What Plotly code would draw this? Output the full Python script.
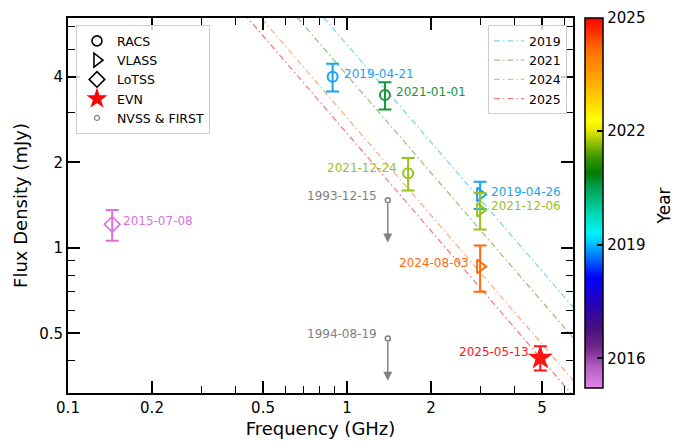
import numpy as np
import plotly.graph_objects as go

# ---------------- data ----------------
racs_dates = ["2019-04-21", "2021-01-01", "2021-12-24"]
racs_freq = [0.888, 1.3675, 1.6555]
racs_flux = [4.0, 3.45, 1.83]
racs_err = [0.45, 0.38, 0.24]

vlass_dates = ["2019-04-26", "2021-12-06", "2024-08-03"]
vlass_freq = [3.0, 3.0, 3.0]
vlass_flux = [1.54, 1.36, 0.86]
vlass_err = [0.17, 0.20, 0.16]

lotss_dates = ["2015-07-08"]
lotss_freq = [0.144]
lotss_flux = [1.21]
lotss_err = [0.15]

evn_dates = ["2025-05-13"]
evn_freq = [4.93]
evn_flux = [0.41]
evn_err = [0.04]

nvss_first_dates = ["1993-12-15", "1994-08-19"]
nvss_first_freq = [1.4, 1.4]
nvss_first_limit = [1.47, 0.48]
limit_arrow_fraction = 0.71

line_years = ["2019", "2021", "2024", "2025"]
line_flux_1ghz = [5.19, 4.05, 2.87, 2.53]
spectral_index = -1.14
line_freq_span = [0.1, 8.0]

x_ticks = [0.1, 0.2, 0.5, 1, 2, 5]
x_ticklabels = ["0.1", "0.2", "0.5", "1", "2", "5"]
x_minor = [0.3, 0.4, 0.6, 0.7, 0.8, 0.9, 3, 4, 6]
y_ticks = [0.5, 1, 2, 4]
y_ticklabels = ["0.5", "1", "2", "4"]
y_minor = [0.4, 0.6, 0.7, 0.8, 0.9, 3, 5, 6]

cbar_years = [2016, 2019, 2022, 2025]
cbar_min, cbar_max = 2015.23, 2025.0

# ---------------- styles ----------------
FONT = "DejaVu Sans"
color_of = {
    "2015-07-08": "#dc6ee0",
    "2019-04-21": "#1ba3ef",
    "2019-04-26": "#1ba3ef",
    "2021-01-01": "#16973a",
    "2021-12-24": "#95c41c",
    "2021-12-06": "#95c41c",
    "2024-08-03": "#ff6a0e",
    "2025-05-13": "#ff1414",
}
grey = "#808080"
line_colors = ["#82d4f2", "#95ca7c", "#ffb07e", "#f47f7f"]

stops = [
    (2015.23, "#e383ea"), (2015.78, "#b25fc4"), (2016.31, "#72258a"),
    (2016.84, "#45107e"), (2017.54, "#2200c4"), (2018.15, "#0000ff"),
    (2018.78, "#0088ff"), (2019.2, "#00e0ff"), (2019.35, "#00f4f4"),
    (2019.84, "#00d8b0"), (2020.53, "#00a050"), (2020.89, "#007f00"),
    (2021.32, "#3a9400"), (2021.76, "#a2c800"), (2022.05, "#eaea00"),
    (2022.3, "#ffff00"), (2023.26, "#ffb000"), (2024.14, "#ff7000"),
    (2025.0, "#ff0000"),
]
colorscale = [[(y - cbar_min) / (cbar_max - cbar_min), c] for y, c in stops]
colorscale[0][0] = 0.0
colorscale[-1][0] = 1.0

X_RANGE = [-1, 0.81]
Y_RANGE = [-0.511, 0.809]

fig = go.Figure()

# spectral-index lines
for yr, s1, col in zip(line_years, line_flux_1ghz, line_colors):
    f = np.array(line_freq_span)
    fig.add_trace(go.Scatter(
        x=f, y=s1 * f ** spectral_index, mode="lines", name=yr,
        line=dict(color=col, width=1.3, dash="6px,3px,1.5px,3px"),
        legend="legend2", hoverinfo="skip"))

def add_points(dates, freq, flux, err, symbol, size, lw):
    for d, f, s, e in zip(dates, freq, flux, err):
        c = color_of[d]
        fig.add_trace(go.Scatter(
            x=[f], y=[s], mode="markers", showlegend=False,
            marker=dict(symbol=symbol, size=size, color=c,
                        line=dict(color=c, width=lw)),
            error_y=dict(type="data", array=[e], color=c, thickness=2, width=6.5)))

add_points(racs_dates, racs_freq, racs_flux, racs_err, "circle-open", 10, 2)
add_points(vlass_dates, vlass_freq, vlass_flux, vlass_err, "triangle-right-open", 12, 2)
add_points(lotss_dates, lotss_freq, lotss_flux, lotss_err, "diamond-open", 12, 1.6)
add_points(evn_dates, evn_freq, evn_flux, evn_err, "star", 19, 0)

# NVSS & FIRST upper limits
fig.add_trace(go.Scatter(
    x=nvss_first_freq, y=nvss_first_limit, mode="markers", showlegend=False,
    marker=dict(symbol="circle-open", size=5, color=grey, line=dict(color=grey, width=1.5))))
for f, s in zip(nvss_first_freq, nvss_first_limit):
    fig.add_annotation(
        x=np.log10(f), y=np.log10(s * limit_arrow_fraction), xref="x", yref="y",
        ax=np.log10(f), ay=np.log10(s), axref="x", ayref="y", text="",
        showarrow=True, arrowhead=2, arrowsize=1.2, arrowwidth=1.5, arrowcolor=grey,
        standoff=0, startstandoff=2)

# date labels
label_specs = [
    (racs_dates, racs_freq, racs_flux, ["left", "left", "right"], [3, 3, 5]),
    (vlass_dates, vlass_freq, vlass_flux, ["left", "left", "right"], [3, 4, 3]),
    (lotss_dates, lotss_freq, lotss_flux, ["left"], [3]),
    (evn_dates, evn_freq, evn_flux, ["right"], [6]),
]
for dates, freq, flux, sides, ysh in label_specs:
    for d, f, s, side, dy in zip(dates, freq, flux, sides, ysh):
        fig.add_annotation(
            x=np.log10(f), y=np.log10(s), xref="x", yref="y", text=d, showarrow=False,
            xanchor=side, xshift=9 if side == "left" else -9, yshift=dy,
            font=dict(family=FONT, size=12, color=color_of[d]))
for d, f, s in zip(nvss_first_dates, nvss_first_freq, nvss_first_limit):
    fig.add_annotation(
        x=np.log10(f), y=np.log10(s), xref="x", yref="y", text=d, showarrow=False,
        xanchor="right", xshift=-9, yshift=4,
        font=dict(family=FONT, size=12, color=grey))

# colorbar title
fig.add_annotation(
    x=1.18, y=0.5, xref="paper", yref="paper", text="Year", textangle=-90,
    showarrow=False, xanchor="center", yanchor="middle",
    font=dict(family=FONT, size=17, color="black"))

# legend proxies
legend_entries = [
    ("RACS", "circle-open", 10, "black", 1.6),
    ("VLASS", "triangle-right-open", 12, "black", 1.6),
    ("LoTSS", "diamond-open", 12, "black", 1.6),
    ("EVN", "star", 18, "#ff0000", 0),
    ("NVSS & FIRST", "circle-open", 5, grey, 1.2),
]
for name, sym, sz, col, lw in legend_entries:
    fig.add_trace(go.Scatter(
        x=[None], y=[None], mode="markers", name=name, legend="legend",
        marker=dict(symbol=sym, size=sz, color=col, line=dict(color=col, width=lw))))

# colorbar carrier
fig.add_trace(go.Scatter(
    x=[1, 1], y=[1, 1], mode="markers", showlegend=False, hoverinfo="skip",
    marker=dict(size=0.1, opacity=0, color=[cbar_min, cbar_max], coloraxis="coloraxis")))

# invisible trace on the mirror axes (top / right ticks)
fig.add_trace(go.Scatter(
    x=[1], y=[1], xaxis="x2", yaxis="y2", mode="markers", showlegend=False,
    hoverinfo="skip", marker=dict(size=0.1, opacity=0)))

tick_style = dict(ticks="inside", ticklen=12, tickwidth=1.8, tickcolor="black",
                  showgrid=False, zeroline=False, automargin=False)
minor_x = dict(tickmode="array", tickvals=x_minor, ticks="inside", ticklen=7,
               tickwidth=1.3, tickcolor="black", showgrid=False)
minor_y = dict(tickmode="array", tickvals=y_minor, ticks="inside", ticklen=7,
               tickwidth=1.3, tickcolor="black", showgrid=False)

# the page body adds an 8px offset, so the figure is 8px smaller on each axis
fig.update_layout(
    width=678, height=433,
    margin=dict(l=60, r=113, t=10, b=48, autoexpand=False),
    paper_bgcolor="white", plot_bgcolor="white",
    font=dict(family=FONT, color="black"),
    xaxis=dict(tick_style, type="log", range=X_RANGE, showline=True, linewidth=2,
               linecolor="black", mirror=True,
               tickmode="array", tickvals=x_ticks, ticktext=x_ticklabels,
               tickfont=dict(family=FONT, size=15, color="black"), minor=minor_x,
               title=dict(text="Frequency (GHz)", font=dict(family=FONT, size=18), standoff=6)),
    yaxis=dict(tick_style, type="log", range=Y_RANGE, showline=True, linewidth=2,
               linecolor="black", mirror=True,
               tickmode="array", tickvals=y_ticks, ticktext=y_ticklabels,
               tickfont=dict(family=FONT, size=15, color="black"), minor=minor_y,
               title=dict(text="Flux Density (mJy)", font=dict(family=FONT, size=18), standoff=7)),
    xaxis2=dict(tick_style, type="log", range=X_RANGE, overlaying="x", side="top",
                anchor="y", showline=False, showticklabels=False,
                tickmode="array", tickvals=x_ticks, minor=minor_x),
    yaxis2=dict(tick_style, type="log", range=Y_RANGE, overlaying="y", side="right",
                anchor="x", showline=False, showticklabels=False,
                tickmode="array", tickvals=y_ticks, minor=minor_y),
    coloraxis=dict(
        cmin=cbar_min, cmax=cbar_max, colorscale=colorscale,
        colorbar=dict(
            x=1.024, xanchor="left", xref="paper", y=1.001, yanchor="top",
            len=0.986, lenmode="fraction", thickness=18, xpad=0, ypad=0,
            outlinewidth=1.5, outlinecolor="black",
            tickmode="array", tickvals=cbar_years, ticktext=[str(v) for v in cbar_years],
            ticks="inside", ticklen=6, tickwidth=1.5, tickcolor="black",
            tickfont=dict(family=FONT, size=15, color="black"),
            title=dict(text="")),
    ),
    legend=dict(x=0.0158, y=0.9806, xanchor="left", yanchor="top",
                bgcolor="rgba(255,255,255,0.8)", bordercolor="#cccccc", borderwidth=1,
                font=dict(family=FONT, size=12.5), itemsizing="trace"),
    legend2=dict(x=0.988, y=0.9806, xanchor="right", yanchor="top",
                 bgcolor="rgba(255,255,255,0.8)", bordercolor="#cccccc", borderwidth=1,
                 font=dict(family=FONT, size=12.5)),
    showlegend=True,
)

fig.write_html("out.html")
